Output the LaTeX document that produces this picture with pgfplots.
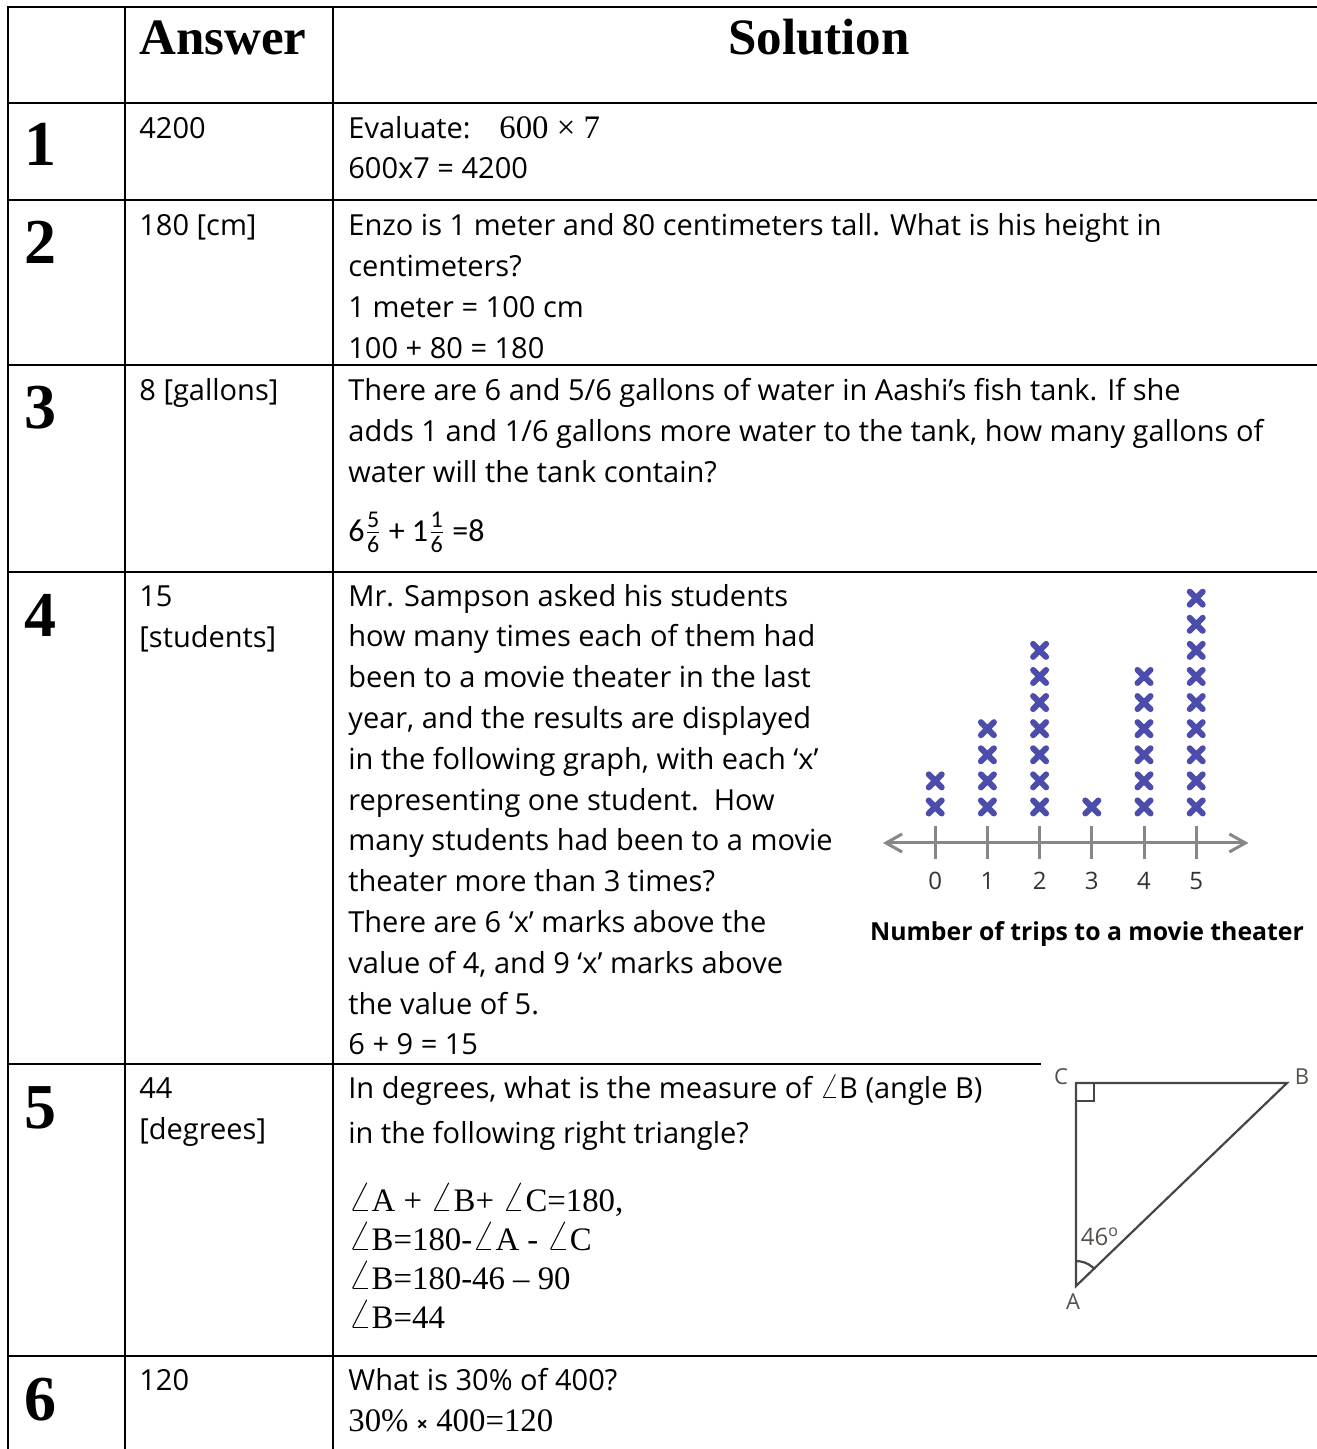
\documentclass[border=0pt]{standalone}
\usepackage{pgfplots}
\pgfplotsset{compat=1.18}
\usepackage{fontspec}
\usetikzlibrary{arrows.meta}
\setmainfont{Open Sans}
\newfontfamily\tms{Liberation Serif}
\newfontfamily\carl{Carlito}

\definecolor{xblue}{RGB}{76,76,172}
\definecolor{axgray}{RGB}{135,135,135}
\definecolor{trigray}{RGB}{70,70,70}
\definecolor{lblgray}{RGB}{85,80,75}

% 1 px of the reference = 0.5pt
\newcommand{\cs}{\fontsize{14.5pt}{17pt}\selectfont}
\newcommand{\ts}{\tms\fontsize{16.4pt}{19pt}\selectfont}
\newcommand{\hd}{\tms\bfseries\fontsize{25.5pt}{30pt}\selectfont}
\newcommand{\nm}{\tms\bfseries\fontsize{32pt}{36pt}\selectfont}
\newcommand{\fr}[2]{$\frac{\mbox{\carl\fontsize{12pt}{12pt}\selectfont #1}}{\mbox{\carl\fontsize{12pt}{12pt}\selectfont #2}}$}
\newcommand{\ang}{\scalebox{1.25}{$\angle$}}

\tikzset{
  txt/.style={anchor=base west, inner sep=0pt, font=\cs},
  tm/.style={anchor=base west, inner sep=0pt, font=\ts},
  tri/.style={font=\fontsize{11pt}{12pt}\selectfont, text=lblgray, inner sep=0pt},
}

\begin{document}
\begin{tikzpicture}
\useasboundingbox (0,0) rectangle (658pt,724.5pt);
\begin{axis}[
  at={(0,0)}, anchor=south west,
  width=658pt, height=724.5pt, scale only axis,
  xmin=0, xmax=1316, ymin=0, ymax=1449, y dir=reverse,
  hide axis, clip=false,
]
% table rules
\begin{scope}[line width=1.4pt, line cap=rect]
\draw (axis cs:8,7) -- (axis cs:1330,7);
\draw (axis cs:8,103) -- (axis cs:1330,103);
\draw (axis cs:8,200) -- (axis cs:1330,200);
\draw (axis cs:8,365) -- (axis cs:1330,365);
\draw (axis cs:8,572) -- (axis cs:1330,572);
\draw (axis cs:8,1064) -- (axis cs:1040,1064);
\draw (axis cs:8,1356) -- (axis cs:1330,1356);
\draw (axis cs:8,7) -- (axis cs:8,1460);
\draw (axis cs:125,7) -- (axis cs:125,1460);
\draw (axis cs:333,7) -- (axis cs:333,1460);
\end{scope}

% header
\node[anchor=base west, inner sep=0pt, font=\hd] at (axis cs:139,55) {Answer};
\node[anchor=base, inner sep=0pt, font=\hd] at (axis cs:819,55) {Solution};

% row numbers
\node[anchor=base west, inner sep=0pt, font=\nm] at (axis cs:24,165) {1};
\node[anchor=base west, inner sep=0pt, font=\nm] at (axis cs:24,263) {2};
\node[anchor=base west, inner sep=0pt, font=\nm] at (axis cs:24,428) {3};
\node[anchor=base west, inner sep=0pt, font=\nm] at (axis cs:24,636) {4};
\node[anchor=base west, inner sep=0pt, font=\nm] at (axis cs:24,1128) {5};
\node[anchor=base west, inner sep=0pt, font=\nm] at (axis cs:24,1420) {6};

% answers
\node[txt] at (axis cs:139,138) {4200};
\node[txt] at (axis cs:139,235) {180 [cm]};
\node[txt] at (axis cs:139,400) {8 [gallons]};
\node[txt] at (axis cs:139,606) {15};
\node[txt] at (axis cs:139,647) {[students]};
\node[txt] at (axis cs:139,1098) {44};
\node[txt] at (axis cs:139,1139) {[degrees]};
\node[txt] at (axis cs:139,1390) {120};

% row 1
\node[txt] at (axis cs:348,138) {Evaluate:};
\node[tm] at (axis cs:499,138) {600 × 7};
\node[txt] at (axis cs:348,179) {600x7 = 4200};

% row 2
\node[txt] at (axis cs:348,235) {Enzo is 1 meter and 80 centimeters tall. What is his height in};
\node[txt] at (axis cs:348,276) {centimeters?};
\node[txt] at (axis cs:348,317) {1 meter = 100 cm};
\node[txt] at (axis cs:348,358) {100 + 80 = 180};

% row 3
\node[txt] at (axis cs:348,400) {There are 6 and 5/6 gallons of water in Aashi's fish tank. If she};
\node[txt] at (axis cs:348,441) {adds 1 and 1/6 gallons more water to the tank, how many gallons of};
\node[txt] at (axis cs:348,482) {water will the tank contain?};
\node[anchor=base west, inner sep=0pt, font=\carl\fontsize{16pt}{18pt}\selectfont] at (axis cs:348,541) {6\fr{5}{6} + 1\fr{1}{6} =8};

% row 4
\node[txt] at (axis cs:348,606) {Mr. Sampson asked his students};
\node[txt] at (axis cs:348,646.8) {how many times each of them had};
\node[txt] at (axis cs:348,687.6) {been to a movie theater in the last};
\node[txt] at (axis cs:348,728.4) {year, and the results are displayed};
\node[txt] at (axis cs:348,769.2) {in the following graph, with each ‘x’};
\node[txt] at (axis cs:348,810) {representing one student.\ \ How};
\node[txt] at (axis cs:348,850.8) {many students had been to a movie};
\node[txt] at (axis cs:348,891.6) {theater more than 3 times?};
\node[txt] at (axis cs:348,932.4) {There are 6 ‘x’ marks above the};
\node[txt] at (axis cs:348,973.2) {value of 4, and 9 ‘x’ marks above};
\node[txt] at (axis cs:348,1014) {the value of 5.};
\node[txt] at (axis cs:348,1054.8) {6 + 9 = 15};
\node[anchor=base, inner sep=0pt, font=\bfseries\fontsize{12.4pt}{14pt}\selectfont] at (axis cs:1087,940) {Number of trips to a movie theater};

% row 5
\node[txt] at (axis cs:348,1098) {In degrees, what is the measure of \ang B (angle B)};
\node[txt] at (axis cs:348,1143) {in the following right triangle?};
\node[tm] at (axis cs:348,1211) {\ang A + \ang B+ \ang C=180,};
\node[tm] at (axis cs:348,1250) {\ang B=180-\ang A - \ang C};
\node[tm] at (axis cs:348,1289) {\ang B=180-46 – 90};
\node[tm] at (axis cs:348,1328) {\ang B=44};

% triangle
\addplot[trigray, line width=1.1pt, line join=miter, no marks] coordinates {(1076,1083) (1287,1083) (1076,1286) (1076,1083) (1090,1083)};
\addplot[trigray, line width=1.1pt, no marks] coordinates {(1076,1101) (1094,1101) (1094,1083)};
\addplot[trigray, line width=1.1pt, no marks] coordinates {(1076,1261) (1080.3,1261.4) (1084.6,1262.5) (1088.5,1264.3) (1092.1,1266.8) (1094.0,1268.6)};
\node[tri] at (axis cs:1061,1077) {C};
\node[tri] at (axis cs:1302,1077) {B};
\node[tri] at (axis cs:1073,1302) {A};
\node[tri, font=\fontsize{12pt}{13pt}\selectfont] at (axis cs:1100,1237) {46\textsuperscript{o}};

% row 6
\node[txt] at (axis cs:348,1390) {What is 30\% of 400?};
\node[tm] at (axis cs:348,1431) {30\% {\rmfamily\bfseries\fontsize{10pt}{12pt}\selectfont ×} 400=120};
\end{axis}

% dot plot
\begin{axis}[
  at={(441.5pt,303pt)}, anchor=south west,
  x=26.1pt, y=13.05pt,
  xmin=-1, xmax=6, ymin=-0.38, ymax=9.5,
  axis x line=bottom, axis y line=none,
  x axis line style={draw=axgray, line width=1.5pt,
    {Straight Barb[length=8pt,width=9pt]}-{Straight Barb[length=8pt,width=9pt]}},
  xtick={0,...,5}, xticklabels={0,1,2,3,4,5},
  major tick length=16.5pt, tick align=center,
  tick style={draw=axgray, line width=1.5pt},
  xticklabel style={font=\fontsize{12pt}{13pt}\selectfont, text=black!80, anchor=base, yshift=-15pt},
  clip=false,
]
\addplot[only marks, mark=x, mark size=4.6pt, xblue,
  mark options={line width=3pt, line cap=round}] coordinates {
  (0,1) (0,2)
  (1,1) (1,2) (1,3) (1,4)
  (2,1) (2,2) (2,3) (2,4) (2,5) (2,6) (2,7)
  (3,1)
  (4,1) (4,2) (4,3) (4,4) (4,5) (4,6)
  (5,1) (5,2) (5,3) (5,4) (5,5) (5,6) (5,7) (5,8) (5,9)
};
\end{axis}
\end{tikzpicture}
\end{document}
